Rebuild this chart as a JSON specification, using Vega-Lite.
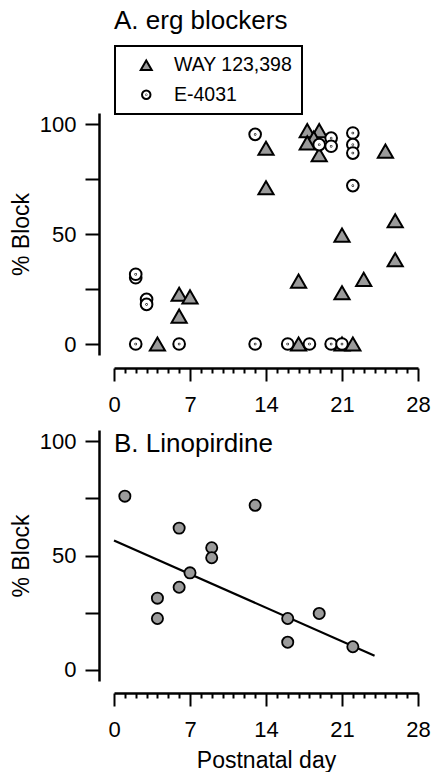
{
  "$schema": "https://vega.github.io/schema/vega-lite/v6.json",
  "padding": {"left": 10, "top": 7, "right": 0, "bottom": 0},
  "spacing": 15,
  "config": {
    "font": "Liberation Sans",
    "view": {"stroke": null},
    "axis": {
      "grid": false,
      "domainColor": "black",
      "tickColor": "black",
      "domainWidth": 2.5,
      "tickWidth": 2,
      "labelColor": "black",
      "titleColor": "black",
      "labelFont": "Liberation Sans",
      "titleFont": "Liberation Sans",
      "labelFontSize": 22,
      "titleFontSize": 23,
      "titleFontWeight": "normal"
    },
    "title": {"anchor": "start", "frame": "group", "fontSize": 26, "fontWeight": "normal", "color": "black", "font": "Liberation Sans", "baseline": "alphabetic"},
    "legend": {
      "orient": "none",
      "legendX": 1,
      "legendY": -67,
      "strokeColor": "black",
      "strokeWidth": 2,
      "padding": 9.5,
      "labelFontSize": 19.5,
      "labelColor": "black",
      "labelFont": "Liberation Sans",
      "symbolSize": 121,
      "symbolStrokeWidth": 2,
      "symbolOffset": 12,
      "labelOffset": 18,
      "rowPadding": 8.5
    }
  },
  "vconcat": [
    {
      "width": 304,
      "height": 242,
      "title": {"text": "A. erg blockers", "offset": 79},
      "data": {"values": [
        {"drug": "WAY 123,398", "day": 4, "block": 0},
        {"drug": "WAY 123,398", "day": 6, "block": 22.6},
        {"drug": "WAY 123,398", "day": 7, "block": 21.4},
        {"drug": "WAY 123,398", "day": 6, "block": 12.7},
        {"drug": "WAY 123,398", "day": 14, "block": 89},
        {"drug": "WAY 123,398", "day": 14, "block": 71},
        {"drug": "WAY 123,398", "day": 17, "block": 28.6},
        {"drug": "WAY 123,398", "day": 17, "block": 0},
        {"drug": "WAY 123,398", "day": 17.8, "block": 97},
        {"drug": "WAY 123,398", "day": 18.9, "block": 97},
        {"drug": "WAY 123,398", "day": 18.4, "block": 93.6},
        {"drug": "WAY 123,398", "day": 17.8, "block": 91.4},
        {"drug": "WAY 123,398", "day": 18.9, "block": 86},
        {"drug": "WAY 123,398", "day": 21, "block": 49.5},
        {"drug": "WAY 123,398", "day": 21, "block": 23.3},
        {"drug": "WAY 123,398", "day": 21, "block": 0},
        {"drug": "WAY 123,398", "day": 22, "block": 0},
        {"drug": "WAY 123,398", "day": 23, "block": 29.4},
        {"drug": "WAY 123,398", "day": 25, "block": 87.7},
        {"drug": "WAY 123,398", "day": 25.9, "block": 56},
        {"drug": "WAY 123,398", "day": 25.9, "block": 38.3},
        {"drug": "E-4031", "day": 2, "block": 30.1},
        {"drug": "E-4031", "day": 2, "block": 31.7},
        {"drug": "E-4031", "day": 2, "block": 0},
        {"drug": "E-4031", "day": 3, "block": 20.3},
        {"drug": "E-4031", "day": 3, "block": 18},
        {"drug": "E-4031", "day": 6, "block": 0},
        {"drug": "E-4031", "day": 13, "block": 95.3},
        {"drug": "E-4031", "day": 13, "block": 0},
        {"drug": "E-4031", "day": 16, "block": 0},
        {"drug": "E-4031", "day": 18, "block": 0},
        {"drug": "E-4031", "day": 20, "block": 0},
        {"drug": "E-4031", "day": 21, "block": 0},
        {"drug": "E-4031", "day": 18.9, "block": 90.6},
        {"drug": "E-4031", "day": 20, "block": 93.6},
        {"drug": "E-4031", "day": 20, "block": 89.9},
        {"drug": "E-4031", "day": 22, "block": 95.9},
        {"drug": "E-4031", "day": 22, "block": 90.6},
        {"drug": "E-4031", "day": 22, "block": 86.8},
        {"drug": "E-4031", "day": 22, "block": 72}
      ]},
      "mark": {"type": "point", "filled": true, "strokeWidth": 2, "opacity": 1, "size": 230},
      "encoding": {
        "x": {
          "field": "day", "type": "quantitative",
          "scale": {"domain": [0, 28], "nice": false, "zero": false},
          "axis": {
            "title": null,
            "values": [0,1,2,3,4,5,6,7,8,9,10,11,12,13,14,15,16,17,18,19,20,21,22,23,24,25,26,27,28],
            "labelExpr": "datum.value % 7 === 0 ? datum.label : ''",
            "tickSize": {"condition": {"test": "datum.value % 7 === 0", "value": 13}, "value": 5},
            "offset": 13,
            "labelPadding": 13,
            "labelFlush": false,
            "labelOverlap": false
          }
        },
        "y": {
          "field": "block", "type": "quantitative",
          "scale": {"domain": [-5, 105], "nice": false, "zero": false},
          "axis": {
            "title": "% Block",
            "values": [0, 25, 50, 75, 100],
            "labelExpr": "datum.value % 50 === 0 ? datum.label : ''",
            "tickSize": 14,
            "offset": 15,
            "labelPadding": 9,
            "titlePadding": 6
          }
        },
        "shape": {
          "field": "drug", "type": "nominal",
          "scale": {
            "domain": ["WAY 123,398", "E-4031"],
            "range": ["triangle-up", "M-0.77,0A0.77,0.77,0,1,0,0.77,0A0.77,0.77,0,1,0,-0.77,0Z M-0.04,0A0.04,0.04,0,1,0,0.04,0A0.04,0.04,0,1,0,-0.04,0Z"]
          },
          "legend": {"title": null}
        },
        "fill": {
          "field": "drug", "type": "nominal",
          "scale": {"domain": ["WAY 123,398", "E-4031"], "range": ["#9b9b9b", "white"]},
          "legend": {"title": null}
        },
        "stroke": {
          "field": "drug", "type": "nominal",
          "scale": {"domain": ["WAY 123,398", "E-4031"], "range": ["black", "black"]},
          "legend": {"title": null}
        }
      }
    },
    {
      "width": 304,
      "height": 251,
      "title": {"text": "B. Linopirdine", "offset": -27},
      "encoding": {
        "x": {
          "field": "day", "type": "quantitative",
          "scale": {"domain": [0, 28], "nice": false, "zero": false},
          "axis": {
            "title": "Postnatal day",
            "values": [0,1,2,3,4,5,6,7,8,9,10,11,12,13,14,15,16,17,18,19,20,21,22,23,24,25,26,27,28],
            "labelExpr": "datum.value % 7 === 0 ? datum.label : ''",
            "tickSize": {"condition": {"test": "datum.value % 7 === 0", "value": 13}, "value": 5},
            "offset": 12,
            "labelPadding": 13,
            "titlePadding": 9,
            "labelFlush": false,
            "labelOverlap": false
          }
        },
        "y": {
          "field": "block", "type": "quantitative",
          "scale": {"domain": [-5, 105], "nice": false, "zero": false},
          "axis": {
            "title": "% Block",
            "values": [0, 25, 50, 75, 100],
            "labelExpr": "datum.value % 50 === 0 ? datum.label : ''",
            "tickSize": 14,
            "offset": 15,
            "labelPadding": 9,
            "titlePadding": 6
          }
        }
      },
      "layer": [
        {
          "data": {"values": [
            {"day": 0, "block": 56.6},
            {"day": 24, "block": 6.1}
          ]},
          "mark": {"type": "line", "color": "black", "strokeWidth": 2.2}
        },
        {
          "data": {"values": [
            {"day": 1, "block": 76},
            {"day": 13, "block": 72},
            {"day": 6, "block": 62},
            {"day": 9, "block": 53.4},
            {"day": 9, "block": 49},
            {"day": 7, "block": 42.4},
            {"day": 6, "block": 36.1},
            {"day": 4, "block": 31.3},
            {"day": 4, "block": 22.4},
            {"day": 16, "block": 22.4},
            {"day": 18.9, "block": 24.6},
            {"day": 16, "block": 12},
            {"day": 22, "block": 10}
          ]},
          "mark": {"type": "circle", "fill": "#9b9b9b", "stroke": "black", "strokeWidth": 1.8, "size": 125, "opacity": 1}
        }
      ]
    }
  ]
}
